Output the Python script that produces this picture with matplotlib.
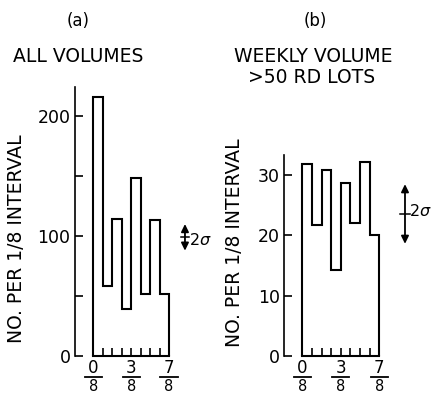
import matplotlib
matplotlib.use('Agg')
import matplotlib.pyplot as plt
from matplotlib.transforms import offset_copy

# bin counts per 1/8 interval
edges = list(range(9))
counts_all = [216, 58, 114, 39, 148, 52, 113, 52]
counts_weekly = [31.8, 21.7, 30.8, 14.2, 28.7, 22.0, 32.2, 20.0]

frac_pos = [0, 4, 8]
frac_num = ['0', '3', '7']
frac_den = ['8', '8', '8']

yticks_all = [0, 100, 200]
yminor_all = [50, 150]
yticks_weekly = [0, 10, 20, 30]

sigma_all = (87.75, 110.0)     # 2 sigma bar, panel (a)
sigma_weekly = (18.6, 28.5)    # 2 sigma bar, panel (b)

plt.rcParams['font.family'] = ['DejaVu Sans']

LW = 1.5
TICKLEN = 5.8


def style_axis(ax, ylim, xlim, yticks, yminor=None):
    ax.set_xlim(*xlim)
    ax.set_ylim(*ylim)
    for s in ('top', 'right'):
        ax.spines[s].set_visible(False)
    ax.spines['left'].set_linewidth(1.2)
    ax.spines['bottom'].set_linewidth(LW)
    ax.spines['bottom'].set_bounds(0, 8)
    ax.set_yticks(yticks)
    ax.set_yticklabels([str(t) for t in yticks])
    if yminor:
        ax.set_yticks(yminor, minor=True)
    ax.set_xticks(range(1, 8))
    ax.set_xticklabels([])
    ax.tick_params(axis='y', which='both', direction='in', length=TICKLEN,
                   width=1.2, labelsize=12.5, pad=3)
    ax.tick_params(axis='x', direction='in', length=TICKLEN, width=1.2)
    ax.patch.set_alpha(0)


def fraction_labels(ax, fig, half):
    base = ax.get_xaxis_transform()
    t_num = offset_copy(base, fig=fig, y=-12, units='dots')
    t_bar = offset_copy(base, fig=fig, y=-21, units='dots')
    t_den = offset_copy(base, fig=fig, y=-30.5, units='dots')
    for x, n, d in zip(frac_pos, frac_num, frac_den):
        ax.text(x, 0, n, transform=t_num, ha='center', va='center',
                fontsize=12, clip_on=False)
        ax.plot([x - half, x + half], [0, 0], transform=t_bar, color='k',
                lw=1.3, clip_on=False)
        ax.text(x, 0, d, transform=t_den, ha='center', va='center',
                fontsize=10.5, clip_on=False)


def sigma_bar(ax, x, lo, hi, tx, ty, bar_half):
    ax.annotate('', xy=(x, lo), xytext=(x, hi),
                arrowprops=dict(arrowstyle='<|-|>,head_length=0.45,head_width=0.22',
                                color='k', lw=1.3, shrinkA=0, shrinkB=0),
                annotation_clip=False)
    mid = (lo + hi) / 2
    ax.plot([x - bar_half, x + bar_half], [mid, mid], color='k', lw=1.1,
            clip_on=False)
    ax.text(tx, ty, '2$\\sigma$', ha='left', va='center', fontsize=11.5,
            clip_on=False)


fig = plt.figure(figsize=(4.39, 3.93), dpi=100)

# panel (a)
ax1 = fig.add_axes([0.1702, 0.0941, 0.3009, 0.684])
ax1.stairs(counts_all, edges, baseline=0, color='k', lw=LW)
style_axis(ax1, (0, 224), (-1.97, 12), yticks_all, yminor_all)
fraction_labels(ax1, fig, 0.9)
sigma_bar(ax1, 9.69, sigma_all[0], sigma_all[1], 10.1, 97, 0.4)

# panel (b)
ax2 = fig.add_axes([0.6469, 0.0941, 0.3048, 0.511])
ax2.stairs(counts_weekly, edges, baseline=0, color='k', lw=LW)
style_axis(ax2, (0, 33.3), (-1.9, 12), yticks_weekly)
fraction_labels(ax2, fig, 0.88)
sigma_bar(ax2, 10.67, sigma_weekly[0], sigma_weekly[1], 11.1, 24.1, 0.5)

ylab = 'NO. PER 1/8 INTERVAL'
fig.text(16.5 / 439, 1 - 239 / 393, ylab, rotation=90, ha='center',
         va='center', fontsize=13.5)
fig.text(235 / 439, 1 - 242.5 / 393, ylab, rotation=90, ha='center',
         va='center', fontsize=13.5)

fig.text(78 / 439, 1 - 21 / 393, '(a)', ha='center', va='center', fontsize=12)
fig.text(78 / 439, 1 - 57 / 393, 'ALL VOLUMES', ha='center', va='center',
         fontsize=13.5)
fig.text(315 / 439, 1 - 21 / 393, '(b)', ha='center', va='center', fontsize=12)
fig.text(313 / 439, 1 - 56 / 393, 'WEEKLY VOLUME', ha='center', va='center',
         fontsize=13.5)
fig.text(312 / 439, 1 - 77.5 / 393, '>50 RD LOTS', ha='center', va='center',
         fontsize=13.5)

fig.savefig('out.png', dpi=100)
